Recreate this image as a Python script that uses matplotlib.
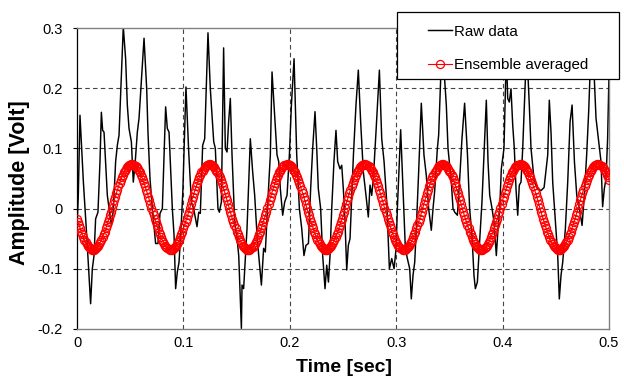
import numpy as np
import matplotlib
matplotlib.use("Agg")
import matplotlib.pyplot as plt
from matplotlib.patches import Rectangle

plt.rcParams['font.family'] = ['Liberation Sans', 'DejaVu Sans']

# raw signal, vertices (time [s], amplitude [V])
raw_t = [
    0.0000, 0.0012, 0.0028, 0.0060, 0.0091, 0.0128, 0.0144, 0.0160, 0.0175, 0.0197,
    0.0216, 0.0229, 0.0241, 0.0254, 0.0285, 0.0323, 0.0342, 0.0363, 0.0379, 0.0395,
    0.0435, 0.0457, 0.0473, 0.0489, 0.0511, 0.0529, 0.0545, 0.0567, 0.0583, 0.0630,
    0.0655, 0.0667, 0.0686, 0.0708, 0.0739, 0.0761, 0.0780, 0.0802, 0.0818, 0.0833,
    0.0849, 0.0865, 0.0880, 0.0896, 0.0912, 0.0927, 0.0943, 0.0959, 0.0981,
    0.0995, 0.1024, 0.1050, 0.1075, 0.1096, 0.1128, 0.1144, 0.1159, 0.1181, 0.1200,
    0.1231, 0.1253, 0.1285, 0.1300, 0.1325, 0.1338, 0.1357, 0.1378, 0.1394, 0.1410,
    0.1425, 0.1441, 0.1457, 0.1482, 0.1504, 0.1520, 0.1545, 0.1551, 0.1566, 0.1598,
    0.1629, 0.1651, 0.1670, 0.1692, 0.1708, 0.1733, 0.1754, 0.1770, 0.1795, 0.1817,
    0.1833, 0.1858, 0.1880, 0.1896, 0.1911, 0.1933, 0.1952, 0.1974, 0.1996, 0.2015,
    0.2040, 0.2065, 0.2090, 0.2112, 0.2133, 0.2152, 0.2175, 0.2196, 0.2215, 0.2237,
    0.2253, 0.2268, 0.2290, 0.2309, 0.2331, 0.2347, 0.2363, 0.2378, 0.2394, 0.2415,
    0.2434, 0.2450, 0.2472, 0.2488, 0.2503, 0.2519, 0.2535, 0.2550, 0.2566, 0.2598,
    0.2622, 0.2644, 0.2666, 0.2691, 0.2716, 0.2738, 0.2754, 0.2770, 0.2785, 0.2810,
    0.2842, 0.2864, 0.2886, 0.2911, 0.2936, 0.2958, 0.2980, 0.2999, 0.3011,
    0.3042, 0.3064, 0.3086, 0.3105, 0.3127, 0.3142, 0.3158, 0.3174, 0.3189, 0.3211,
    0.3236, 0.3261, 0.3283, 0.3305, 0.3330, 0.3346, 0.3361, 0.3387, 0.3399, 0.3431,
    0.3471, 0.3487, 0.3518, 0.3534, 0.3550, 0.3575, 0.3597, 0.3618, 0.3643, 0.3670,
    0.3690, 0.3712, 0.3731, 0.3744, 0.3763, 0.3784, 0.3806, 0.3825, 0.3847, 0.3863,
    0.3879, 0.3901, 0.3919, 0.3941, 0.3957, 0.3973, 0.3988, 0.4013, 0.4035,
    0.4048, 0.4063, 0.4079, 0.4095, 0.4110, 0.4126, 0.4142, 0.4157, 0.4173, 0.4189,
    0.4205, 0.4226, 0.4251, 0.4267, 0.4298, 0.4330, 0.4361, 0.4390, 0.4424, 0.4439,
    0.4455, 0.4471, 0.4496, 0.4518, 0.4533, 0.4549, 0.4565, 0.4590, 0.4612, 0.4634,
    0.4653, 0.4675, 0.4697, 0.4721, 0.4747, 0.4768, 0.4790, 0.4809, 0.4831, 0.4862,
    0.4878, 0.4903, 0.4925, 0.4940, 0.4956, 0.4972, 0.4987, 0.5003,
]
raw_v = [
    -0.030, 0.020, 0.155, 0.044, -0.044, -0.158, -0.100, -0.078, -0.017, -0.006,
    0.078, 0.160, 0.130, 0.127, 0.022, -0.028, 0.000, 0.078, 0.105, 0.122,
    0.302, 0.249, 0.172, 0.133, 0.111, 0.044, 0.072, 0.127, 0.150, 0.283,
    0.199, 0.127, 0.050, 0.000, -0.058, -0.058, -0.008, 0.000, 0.089, 0.169,
    0.133, 0.127, 0.066, 0.000, -0.044, -0.133, -0.105, -0.089, -0.022,
    0.030, 0.202, 0.094, 0.011, 0.000, -0.030, -0.006, -0.008, 0.105, 0.116,
    0.292, 0.199, 0.111, 0.100, 0.000, -0.006, 0.011, 0.267, 0.100, 0.094,
    0.144, 0.183, 0.089, -0.022, -0.050, -0.078, -0.199, -0.127, -0.133, -0.033,
    0.116, 0.061, 0.022, -0.044, -0.078, -0.127, -0.066, -0.072, 0.017, 0.089,
    0.227, 0.155, 0.089, 0.078, 0.033, -0.011, 0.011, 0.022, 0.089, 0.172,
    0.249, 0.089, 0.000, -0.033, -0.078, -0.061, -0.058, 0.033, 0.100, 0.161,
    0.100, 0.033, 0.000, -0.078, -0.133, -0.094, -0.122, -0.078, 0.000, 0.078,
    0.130, 0.078, 0.066, 0.072, 0.033, -0.022, -0.102, -0.061, -0.050, 0.089,
    0.172, 0.230, 0.144, 0.061, 0.022, -0.014, 0.039, 0.022, 0.050, 0.127,
    0.230, 0.116, 0.078, 0.011, -0.100, -0.083, -0.100, -0.066, 0.000,
    0.131, 0.033, -0.066, -0.083, -0.100, -0.150, -0.111, -0.089, -0.033, 0.061,
    0.175, 0.089, 0.055, 0.000, -0.036, 0.000, 0.028, 0.100, 0.122, 0.280,
    0.172, 0.100, 0.044, 0.000, -0.006, -0.011, 0.050, 0.116, 0.175, 0.089,
    0.000, -0.044, -0.111, -0.133, -0.122, -0.055, 0.011, 0.089, 0.180, 0.078,
    0.022, 0.000, -0.022, -0.078, -0.033, 0.000, 0.066, 0.100, 0.260,
    0.183, 0.177, 0.199, 0.139, 0.100, 0.033, -0.011, 0.039, 0.044, 0.100,
    0.172, 0.270, 0.172, 0.100, 0.044, 0.033, 0.030, 0.035, 0.089, 0.180,
    0.127, 0.044, -0.022, -0.078, -0.150, -0.111, -0.089, -0.033, 0.044, 0.144,
    0.172, 0.078, 0.022, 0.000, -0.028, 0.022, 0.089, 0.161, 0.270, 0.216,
    0.150, 0.111, 0.078, 0.003, 0.033, 0.050, 0.116, 0.250,
]

# ensemble averaged signal, one value per 1 ms sample
SAMPLE_DT = 0.001
avg_v = [
    # 0.000 - 0.014 s
    -0.017, -0.022, -0.028, -0.033, -0.039, -0.043, -0.048, -0.052, -0.056, -0.059,
    -0.062, -0.064, -0.066, -0.067, -0.068,
    # 0.015 - 0.087 s
    -0.068, -0.068, -0.067, -0.066, -0.064, -0.062, -0.059, -0.056, -0.052, -0.048,
    -0.043, -0.039, -0.033, -0.028, -0.022, -0.017, -0.011, -0.005, 0.001, 0.008,
    0.014, 0.020, 0.026, 0.031, 0.037, 0.042, 0.047, 0.052, 0.056, 0.060,
    0.063, 0.066, 0.069, 0.071, 0.072, 0.073, 0.074, 0.074, 0.073, 0.072,
    0.071, 0.069, 0.066, 0.063, 0.060, 0.056, 0.052, 0.047, 0.042, 0.037,
    0.031, 0.026, 0.020, 0.014, 0.008, 0.001, -0.005, -0.011, -0.017, -0.022,
    -0.028, -0.033, -0.039, -0.043, -0.048, -0.052, -0.056, -0.059, -0.062, -0.064,
    -0.066, -0.067, -0.068,
    # 0.088 - 0.160 s
    -0.068, -0.068, -0.067, -0.066, -0.064, -0.062, -0.059, -0.056, -0.052, -0.048,
    -0.043, -0.039, -0.033, -0.028, -0.022, -0.017, -0.011, -0.005, 0.001, 0.008,
    0.014, 0.020, 0.026, 0.031, 0.037, 0.042, 0.047, 0.052, 0.056, 0.060,
    0.063, 0.066, 0.069, 0.071, 0.072, 0.073, 0.074, 0.074, 0.073, 0.072,
    0.071, 0.069, 0.066, 0.063, 0.060, 0.056, 0.052, 0.047, 0.042, 0.037,
    0.031, 0.026, 0.020, 0.014, 0.008, 0.001, -0.005, -0.011, -0.017, -0.022,
    -0.028, -0.033, -0.039, -0.043, -0.048, -0.052, -0.056, -0.059, -0.062, -0.064,
    -0.066, -0.067, -0.068,
    # 0.161 - 0.233 s
    -0.068, -0.068, -0.067, -0.066, -0.064, -0.062, -0.059, -0.056, -0.052, -0.048,
    -0.043, -0.039, -0.033, -0.028, -0.022, -0.017, -0.011, -0.005, 0.001, 0.008,
    0.014, 0.020, 0.026, 0.031, 0.037, 0.042, 0.047, 0.052, 0.056, 0.060,
    0.063, 0.066, 0.069, 0.071, 0.072, 0.073, 0.074, 0.074, 0.073, 0.072,
    0.071, 0.069, 0.066, 0.063, 0.060, 0.056, 0.052, 0.047, 0.042, 0.037,
    0.031, 0.026, 0.020, 0.014, 0.008, 0.001, -0.005, -0.011, -0.017, -0.022,
    -0.028, -0.033, -0.039, -0.043, -0.048, -0.052, -0.056, -0.059, -0.062, -0.064,
    -0.066, -0.067, -0.068,
    # 0.234 - 0.306 s
    -0.068, -0.068, -0.067, -0.066, -0.064, -0.062, -0.059, -0.056, -0.052, -0.048,
    -0.043, -0.039, -0.033, -0.028, -0.022, -0.017, -0.011, -0.005, 0.001, 0.008,
    0.014, 0.020, 0.026, 0.031, 0.037, 0.042, 0.047, 0.052, 0.056, 0.060,
    0.063, 0.066, 0.069, 0.071, 0.072, 0.073, 0.074, 0.074, 0.073, 0.072,
    0.071, 0.069, 0.066, 0.063, 0.060, 0.056, 0.052, 0.047, 0.042, 0.037,
    0.031, 0.026, 0.020, 0.014, 0.008, 0.001, -0.005, -0.011, -0.017, -0.022,
    -0.028, -0.033, -0.039, -0.043, -0.048, -0.052, -0.056, -0.059, -0.062, -0.064,
    -0.066, -0.067, -0.068,
    # 0.307 - 0.379 s
    -0.068, -0.068, -0.067, -0.066, -0.064, -0.062, -0.059, -0.056, -0.052, -0.048,
    -0.043, -0.039, -0.033, -0.028, -0.022, -0.017, -0.011, -0.005, 0.001, 0.008,
    0.014, 0.020, 0.026, 0.031, 0.037, 0.042, 0.047, 0.052, 0.056, 0.060,
    0.063, 0.066, 0.069, 0.071, 0.072, 0.073, 0.074, 0.074, 0.073, 0.072,
    0.071, 0.069, 0.066, 0.063, 0.060, 0.056, 0.052, 0.047, 0.042, 0.037,
    0.031, 0.026, 0.020, 0.014, 0.008, 0.001, -0.005, -0.011, -0.017, -0.022,
    -0.028, -0.033, -0.039, -0.043, -0.048, -0.052, -0.056, -0.059, -0.062, -0.064,
    -0.066, -0.067, -0.068,
    # 0.380 - 0.452 s
    -0.068, -0.068, -0.067, -0.066, -0.064, -0.062, -0.059, -0.056, -0.052, -0.048,
    -0.043, -0.039, -0.033, -0.028, -0.022, -0.017, -0.011, -0.005, 0.001, 0.008,
    0.014, 0.020, 0.026, 0.031, 0.037, 0.042, 0.047, 0.052, 0.056, 0.060,
    0.063, 0.066, 0.069, 0.071, 0.072, 0.073, 0.074, 0.074, 0.073, 0.072,
    0.071, 0.069, 0.066, 0.063, 0.060, 0.056, 0.052, 0.047, 0.042, 0.037,
    0.031, 0.026, 0.020, 0.014, 0.008, 0.001, -0.005, -0.011, -0.017, -0.022,
    -0.028, -0.033, -0.039, -0.043, -0.048, -0.052, -0.056, -0.059, -0.062, -0.064,
    -0.066, -0.067, -0.068,
    # 0.453 - 0.500 s
    -0.068, -0.068, -0.067, -0.066, -0.064, -0.062, -0.059, -0.056, -0.052, -0.048,
    -0.043, -0.039, -0.033, -0.028, -0.022, -0.017, -0.011, -0.005, 0.001, 0.008,
    0.014, 0.020, 0.026, 0.031, 0.037, 0.042, 0.047, 0.052, 0.056, 0.060,
    0.063, 0.066, 0.069, 0.071, 0.072, 0.073, 0.074, 0.074, 0.073, 0.072,
    0.071, 0.069, 0.066, 0.063, 0.060, 0.056, 0.052, 0.047,
]
avg_t = np.arange(len(avg_v)) * SAMPLE_DT

x_ticks = [0, 0.1, 0.2, 0.3, 0.4, 0.5]
x_labels = ['0', '0.1', '0.2', '0.3', '0.4', '0.5']
y_ticks = [-0.2, -0.1, 0, 0.1, 0.2, 0.3]
y_labels = ['-0.2', '-0.1', '0', '0.1', '0.2', '0.3']

W, H = 624, 378
fig = plt.figure(figsize=(W / 100, H / 100), dpi=100)
ax = fig.add_axes([77 / W, 1 - 329 / H, (609 - 77) / W, (329 - 28) / H])

# inner dashed grid
for x in x_ticks[1:-1]:
    ax.axvline(x, color='#444444', lw=0.8, ls=(0, (4, 3)), zorder=0.5)
for y in y_ticks[1:-1]:
    ax.axhline(y, color='#444444', lw=0.8, ls=(0, (4, 3)), zorder=0.5)

ax.plot(raw_t, raw_v, color='black', lw=1.05, label='Raw data', zorder=2)
ax.plot(avg_t, avg_v, color='red', lw=0.8, marker='o', ms=5.8, mfc='none',
        mec='red', mew=0.9, label='Ensemble averaged', zorder=3)

ax.set_xlim(0, 0.5)
ax.set_ylim(-0.2, 0.3)
ax.set_xticks(x_ticks)
ax.set_xticklabels(x_labels)
ax.set_yticks(y_ticks)
ax.set_yticklabels(y_labels)
ax.tick_params(axis='x', length=0, pad=5, labelsize=10.5)
ax.tick_params(axis='y', length=3, width=0.8, direction='out', pad=7,
               labelsize=10.5)

for side in ['top', 'right', 'bottom']:
    ax.spines[side].set_color('#808080')
    ax.spines[side].set_linewidth(1.0)
ax.spines['left'].set_color('black')
ax.spines['left'].set_linewidth(0.9)

fig.text(20 / W, 1 - 183 / H, 'Amplitude [Volt]', rotation=90,
         ha='center', va='center', fontsize=15.5, fontweight='bold')
fig.text(344 / W, 1 - 368 / H, 'Time [sec]', ha='center', va='center',
         fontsize=14, fontweight='bold')

# legend box sticking out of the plot area
box = Rectangle((397 / W, 1 - 79 / H), 222 / W, 67 / H,
                transform=fig.transFigure, facecolor='white',
                edgecolor='black', lw=0.9, zorder=4.5, clip_on=False)
ax.add_artist(box)
leg = ax.legend(loc='upper left', bbox_to_anchor=(420 / W, 1 - 17 / H),
                bbox_transform=fig.transFigure, frameon=False, borderpad=0,
                handlelength=1.6, handletextpad=0.15, labelspacing=1.3,
                fontsize=10.9)
leg.set_zorder(5)

fig.savefig('out.png', dpi=100)
